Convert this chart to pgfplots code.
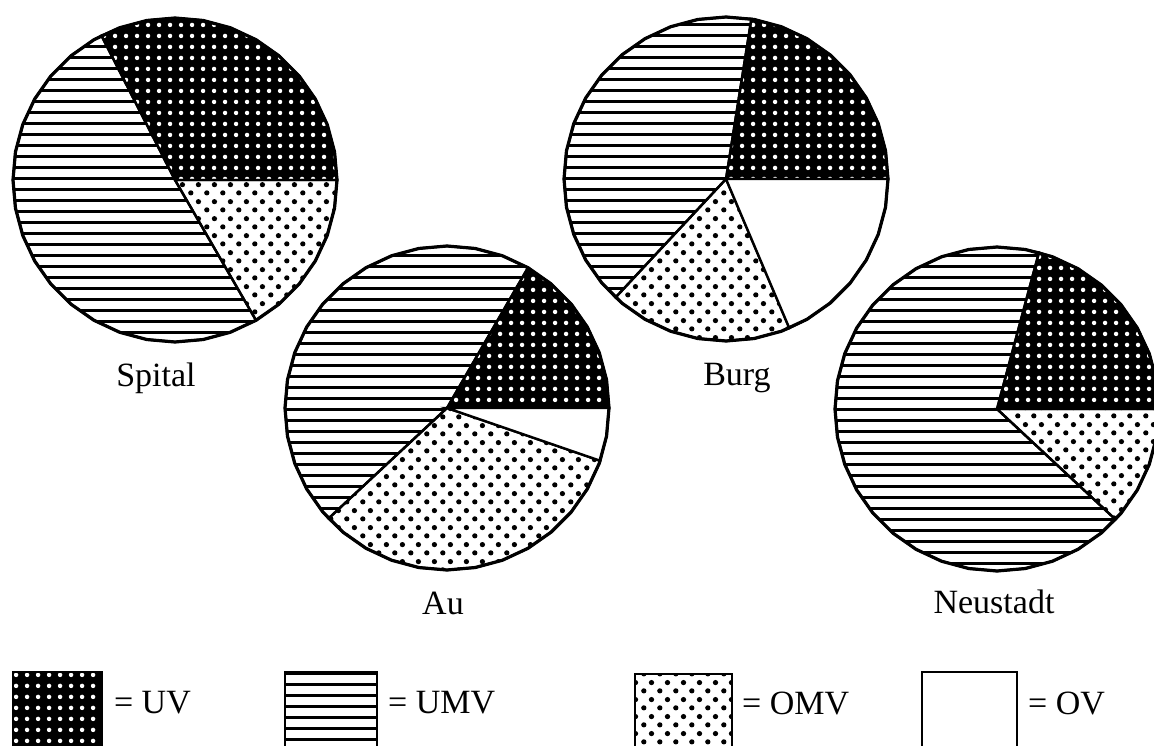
\documentclass[border=0pt]{standalone}
\usepackage{pgfplots}
\pgfplotsset{compat=1.18}
\usepgfplotslibrary{polar}
\usetikzlibrary{patterns}
\usepackage{fontspec}
\setmainfont{Liberation Serif}
\pgfdeclarepatternformonly{uvdots}{\pgfpointorigin}{\pgfpoint{5.5pt}{5.5pt}}{\pgfpoint{5.5pt}{5.5pt}}
  {\pgfpathcircle{\pgfpoint{2.75pt}{2.75pt}}{1.2pt}\pgfusepath{fill}}
\pgfdeclarepatternformonly{umvlines}{\pgfpoint{-0.1pt}{0pt}}{\pgfpoint{5.6pt}{5.5pt}}{\pgfpoint{5.5pt}{5.5pt}}
  {\pgfsetlinewidth{1.7pt}\pgfpathmoveto{\pgfpoint{-0.1pt}{2.75pt}}\pgfpathlineto{\pgfpoint{5.6pt}{2.75pt}}\pgfusepath{stroke}}
\pgfdeclarepatternformonly{omvdots}{\pgfpointorigin}{\pgfpoint{7.8pt}{8.6pt}}{\pgfpoint{7.8pt}{8.6pt}}
  {\pgfpathcircle{\pgfpoint{1.95pt}{2.15pt}}{1.35pt}\pgfpathcircle{\pgfpoint{5.85pt}{6.45pt}}{1.35pt}\pgfusepath{fill}}
\tikzset{
  uvbg/.style={draw=none, fill=black},
  uv/.style={draw=black, line width=1.2pt, pattern=uvdots, pattern color=white},
  umv/.style={draw=black, line width=1.2pt, pattern=umvlines, pattern color=black},
  omv/.style={draw=black, line width=1.2pt, pattern=omvdots, pattern color=black},
  ov/.style={draw=black, line width=1.2pt, fill=white},
  rim/.style={draw=black, line width=1.6pt, fill=none},
  lab/.style={font=\fontsize{17}{20}\selectfont}
}
\pgfplotsset{pie/.style={hide axis, scale only axis, width=162pt, height=162pt,
  xmin=0, xmax=360, ymin=0, ymax=1, clip=false, anchor=center}}
\begin{document}
\begin{tikzpicture}
\useasboundingbox (0pt,0pt) rectangle (577pt,372.5pt);
\clip (0pt,0pt) rectangle (577pt,372.5pt);
% base axis in pixel units (y measured from the bottom)
\begin{axis}[at={(0pt,0pt)}, anchor=south west, scale only axis, width=577pt, height=372.5pt,
  xmin=0, xmax=1154, ymin=0, ymax=745, hide axis, clip=false]
  % legend boxes
  \addplot[uvbg] coordinates {(13,-30) (102,-30) (102,73) (13,73)} -- cycle;
  \addplot[uv] coordinates {(13,-30) (102,-30) (102,73) (13,73)} -- cycle;
  \addplot[umv] coordinates {(285,-30) (377,-30) (377,73) (285,73)} -- cycle;
  \addplot[omv] coordinates {(635,-30) (732,-30) (732,71) (635,71)} -- cycle;
  \addplot[ov] coordinates {(922,-30) (1017,-30) (1017,73) (922,73)} -- cycle;
  \node[lab, anchor=west] at (axis cs:107,42) {= UV};
  \node[lab, anchor=west] at (axis cs:381,42) {= UMV};
  \node[lab, anchor=west] at (axis cs:735,42) {= OMV};
  \node[lab, anchor=west] at (axis cs:1021,42) {= OV};
  % pie labels
  \node[lab] at (axis cs:156,367) {Spital};
  \node[lab] at (axis cs:443,142) {Au};
  \node[lab] at (axis cs:737,367) {Burg};
  \node[lab] at (axis cs:994,143) {Neustadt};
\end{axis}
% Spital
\begin{polaraxis}[pie, at={(87.5pt,282.5pt)}]
  \addplot[uvbg] coordinates {(0,0) (0,1) (10,1) (20,1) (30,1) (40,1) (50,1) (60,1) (70,1) (80,1) (90,1) (100,1) (110,1) (117,1)} -- cycle;
  \addplot[uv] coordinates {(0,0) (0,1) (10,1) (20,1) (30,1) (40,1) (50,1) (60,1) (70,1) (80,1) (90,1) (100,1) (110,1) (117,1)} -- cycle;
  \addplot[umv] coordinates {(0,0) (117,1) (120,1) (130,1) (140,1) (150,1) (160,1) (170,1) (180,1) (190,1) (200,1) (210,1) (220,1) (230,1) (240,1) (250,1) (260,1) (270,1) (280,1) (290,1) (300,1)} -- cycle;
  \addplot[omv] coordinates {(0,0) (300,1) (310,1) (320,1) (330,1) (340,1) (350,1) (360,1)} -- cycle;
  \addplot[rim] coordinates {(0,1) (10,1) (20,1) (30,1) (40,1) (50,1) (60,1) (70,1) (80,1) (90,1) (100,1) (110,1) (120,1) (130,1) (140,1) (150,1) (160,1) (170,1) (180,1) (190,1) (200,1) (210,1) (220,1) (230,1) (240,1) (250,1) (260,1) (270,1) (280,1) (290,1) (300,1) (310,1) (320,1) (330,1) (340,1) (350,1)} -- cycle;
\end{polaraxis}
% Au
\begin{polaraxis}[pie, at={(223.5pt,168.5pt)}]
  \addplot[uvbg] coordinates {(0,0) (0,1) (10,1) (20,1) (30,1) (40,1) (50,1) (60,1)} -- cycle;
  \addplot[uv] coordinates {(0,0) (0,1) (10,1) (20,1) (30,1) (40,1) (50,1) (60,1)} -- cycle;
  \addplot[umv] coordinates {(0,0) (60,1) (70,1) (80,1) (90,1) (100,1) (110,1) (120,1) (130,1) (140,1) (150,1) (160,1) (170,1) (180,1) (190,1) (200,1) (210,1) (220,1) (223,1)} -- cycle;
  \addplot[omv] coordinates {(0,0) (223,1) (230,1) (240,1) (250,1) (260,1) (270,1) (280,1) (290,1) (300,1) (310,1) (320,1) (330,1) (340,1) (341,1)} -- cycle;
  \addplot[ov] coordinates {(0,0) (341,1) (350,1) (360,1)} -- cycle;
  \addplot[rim] coordinates {(0,1) (10,1) (20,1) (30,1) (40,1) (50,1) (60,1) (70,1) (80,1) (90,1) (100,1) (110,1) (120,1) (130,1) (140,1) (150,1) (160,1) (170,1) (180,1) (190,1) (200,1) (210,1) (220,1) (230,1) (240,1) (250,1) (260,1) (270,1) (280,1) (290,1) (300,1) (310,1) (320,1) (330,1) (340,1) (350,1)} -- cycle;
\end{polaraxis}
% Burg
\begin{polaraxis}[pie, at={(363pt,283pt)}]
  \addplot[uvbg] coordinates {(0,0) (0,1) (10,1) (20,1) (30,1) (40,1) (50,1) (60,1) (70,1) (80,1) (81,1)} -- cycle;
  \addplot[uv] coordinates {(0,0) (0,1) (10,1) (20,1) (30,1) (40,1) (50,1) (60,1) (70,1) (80,1) (81,1)} -- cycle;
  \addplot[umv] coordinates {(0,0) (81,1) (90,1) (100,1) (110,1) (120,1) (130,1) (140,1) (150,1) (160,1) (170,1) (180,1) (190,1) (200,1) (210,1) (220,1) (227,1)} -- cycle;
  \addplot[omv] coordinates {(0,0) (227,1) (230,1) (240,1) (250,1) (260,1) (270,1) (280,1) (290,1) (293,1)} -- cycle;
  \addplot[ov] coordinates {(0,0) (293,1) (300,1) (310,1) (320,1) (330,1) (340,1) (350,1) (360,1)} -- cycle;
  \addplot[rim] coordinates {(0,1) (10,1) (20,1) (30,1) (40,1) (50,1) (60,1) (70,1) (80,1) (90,1) (100,1) (110,1) (120,1) (130,1) (140,1) (150,1) (160,1) (170,1) (180,1) (190,1) (200,1) (210,1) (220,1) (230,1) (240,1) (250,1) (260,1) (270,1) (280,1) (290,1) (300,1) (310,1) (320,1) (330,1) (340,1) (350,1)} -- cycle;
\end{polaraxis}
% Neustadt
\begin{polaraxis}[pie, at={(498.5pt,168pt)}]
  \addplot[uvbg] coordinates {(0,0) (0,1) (10,1) (20,1) (30,1) (40,1) (50,1) (60,1) (70,1) (75,1)} -- cycle;
  \addplot[uv] coordinates {(0,0) (0,1) (10,1) (20,1) (30,1) (40,1) (50,1) (60,1) (70,1) (75,1)} -- cycle;
  \addplot[umv] coordinates {(0,0) (75,1) (80,1) (90,1) (100,1) (110,1) (120,1) (130,1) (140,1) (150,1) (160,1) (170,1) (180,1) (190,1) (200,1) (210,1) (220,1) (230,1) (240,1) (250,1) (260,1) (270,1) (280,1) (290,1) (300,1) (310,1) (317,1)} -- cycle;
  \addplot[omv] coordinates {(0,0) (317,1) (320,1) (330,1) (340,1) (350,1) (360,1)} -- cycle;
  \addplot[rim] coordinates {(0,1) (10,1) (20,1) (30,1) (40,1) (50,1) (60,1) (70,1) (80,1) (90,1) (100,1) (110,1) (120,1) (130,1) (140,1) (150,1) (160,1) (170,1) (180,1) (190,1) (200,1) (210,1) (220,1) (230,1) (240,1) (250,1) (260,1) (270,1) (280,1) (290,1) (300,1) (310,1) (320,1) (330,1) (340,1) (350,1)} -- cycle;
\end{polaraxis}
\end{tikzpicture}
\end{document}
